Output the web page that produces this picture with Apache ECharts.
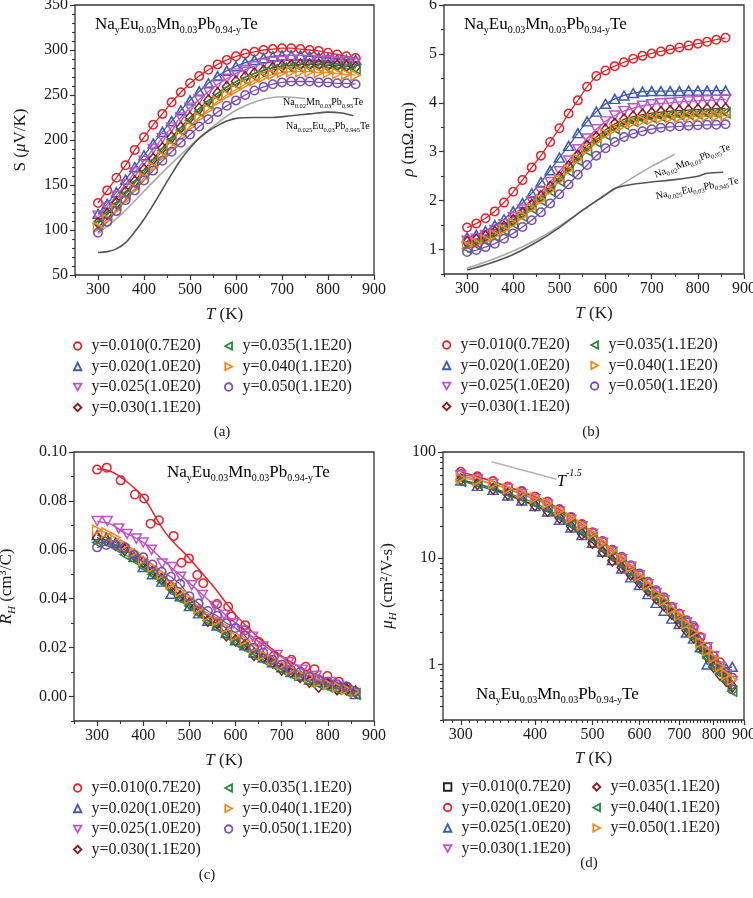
<!DOCTYPE html>
<html><head><meta charset="utf-8">
<script src="https://cdn.jsdelivr.net/npm/echarts@6/dist/echarts.min.js"></script>
<style>html,body{margin:0;padding:0;background:#fff;width:753px;height:898px;overflow:hidden}
.c{position:absolute;left:0;top:0;width:753px;height:898px;}</style>
</head><body>
<div id="ca" class="c"></div><div id="cb" class="c"></div><div id="cc" class="c"></div><div id="cd" class="c"></div>
<script>
// ---------------- DATA ----------------
const T_GRID = [300,320,340,360,380,400,420,440,460,480,500,520,540,560,580,600,620,640,660,680,700,720,740,760,780,800,820,840,860];
const LEGEND_LABELS = ['y=0.010(0.7E20)','y=0.020(1.0E20)','y=0.025(1.0E20)','y=0.030(1.1E20)','y=0.035(1.1E20)','y=0.040(1.1E20)','y=0.050(1.1E20)'];

// (a) Seebeck S (uV/K)
const S_010 = [130,144,158,172,189,203,217,229,242,253,263,271,278,284,289,293,296,298,300,301,302,302,301,300,299,297,295,293,291];
const S_020 = [118,129,142,156,170,183,196,209,221,233,244,254,263,271,277,282,286,289,291,293,294,294,294,293,292,291,290,289,289];
const S_025 = [116,126,138,151,164,177,190,202,214,225,236,245,254,262,268,274,278,282,285,287,288,289,289,289,288,288,287,287,286];
const S_030 = [108,118,130,142,154,167,179,191,203,214,225,235,244,252,259,265,270,274,277,280,282,283,284,284,284,283,283,282,281];
const S_035 = [107,117,128,140,152,164,176,188,200,211,222,232,241,249,256,262,267,271,275,278,280,281,281,281,281,280,280,279,279];
const S_040 = [103,112,123,134,146,158,170,182,193,204,215,225,234,243,250,256,262,266,270,273,275,276,276,276,275,275,274,273,272];
const S_050 = [97,109,121,133,144,155,166,177,187,197,206,215,223,231,238,244,250,255,259,262,264,265,265,265,264,264,263,263,262];
const S_REF_MN_T = [300,350,400,450,500,550,600,650,700,750];
const S_REF_MN = [96,117,143,169,193,215,233,244,248,246];
const S_REF_EU_T = [300,320,340,360,380,400,420,440,460,480,500,520,540,560,580,600,640,680,720,760,800,830,855];
const S_REF_EU = [75,76,79,86,98,112,128,145,162,178,191,202,210,216,221,224,225,225,227,229,231,230,227];

// (b) resistivity rho (mOhm.cm)
const R_010 = [1.45,1.53,1.64,1.78,1.96,2.18,2.42,2.68,2.92,3.2,3.48,3.78,4.05,4.33,4.55,4.66,4.75,4.83,4.9,4.96,5.01,5.05,5.09,5.13,5.17,5.21,5.25,5.29,5.33];
const R_020 = [1.25,1.3,1.38,1.5,1.62,1.78,1.95,2.15,2.38,2.62,2.88,3.12,3.38,3.62,3.82,3.98,4.08,4.15,4.2,4.23,4.24,4.24,4.24,4.24,4.25,4.25,4.25,4.25,4.25];
const R_025 = [1.18,1.22,1.3,1.4,1.52,1.66,1.82,1.99,2.18,2.38,2.6,2.82,3.05,3.27,3.46,3.62,3.74,3.83,3.89,3.94,3.97,3.99,4.0,4.02,4.03,4.04,4.05,4.06,4.07];
const R_030 = [1.15,1.2,1.27,1.36,1.47,1.6,1.75,1.91,2.09,2.28,2.48,2.7,2.92,3.12,3.3,3.45,3.57,3.66,3.72,3.76,3.79,3.81,3.83,3.84,3.85,3.86,3.87,3.88,3.88];
const R_035 = [1.02,1.1,1.18,1.28,1.4,1.53,1.68,1.84,2.01,2.2,2.4,2.6,2.82,3.02,3.2,3.35,3.47,3.56,3.62,3.67,3.7,3.72,3.74,3.75,3.76,3.77,3.78,3.79,3.8];
const R_040 = [1.08,1.13,1.2,1.3,1.41,1.54,1.69,1.85,2.02,2.21,2.42,2.63,2.85,3.05,3.22,3.36,3.47,3.55,3.6,3.64,3.67,3.69,3.7,3.71,3.72,3.72,3.73,3.73,3.74];
const R_050 = [0.95,0.99,1.05,1.12,1.22,1.33,1.46,1.6,1.76,1.94,2.13,2.33,2.53,2.73,2.92,3.07,3.2,3.3,3.37,3.42,3.46,3.49,3.51,3.52,3.53,3.54,3.55,3.55,3.56];
const R_REF_MN_T = [300,350,400,450,500,550,600,650,700,750];
const R_REF_MN = [0.62,0.78,0.97,1.2,1.48,1.8,2.12,2.42,2.7,2.95];
const R_REF_EU_T = [300,350,400,450,500,550,600,620,650,700,750,800,820,855];
const R_REF_EU = [0.58,0.72,0.9,1.15,1.45,1.8,2.12,2.25,2.32,2.38,2.43,2.5,2.56,2.58];

// (c) Hall coefficient R_H (cm3/C)
const RH_010_T = [300,321,351,382,402,416,434,466,483,499,517,530,560,584,591,621,622,651,683,721,752,771,799,824,842,849];
const RH_010 = [0.0928,0.0936,0.0884,0.0826,0.081,0.0707,0.0721,0.0657,0.0547,0.0565,0.0497,0.0463,0.0378,0.0367,0.0327,0.0292,0.0272,0.0223,0.0166,0.015,0.0122,0.0112,0.0084,0.0061,0.004,0.0027];
const RH_010_FIT_T = [300,330,360,400,450,500,550,600,650,700,750,800,850,860];
const RH_010_FIT = [0.093,0.092,0.0885,0.0815,0.0665,0.0565,0.0455,0.0335,0.024,0.0165,0.011,0.007,0.004,0.0035];
const RH_025_T = [300,322,347,365,385,400,418,441,463,481,505,528,555,575,595,615,637,660,690,715,745,775,805,830,858];
const RH_025 = [0.0718,0.0718,0.0687,0.0665,0.0646,0.063,0.06,0.0544,0.053,0.049,0.0455,0.0415,0.037,0.0335,0.03,0.027,0.0245,0.0205,0.017,0.014,0.011,0.0085,0.006,0.004,0.0015];
const RH_025_FIT_T = [300,330,350,400,450,500,550,600,650,700,750,800,850,860];
const RH_025_FIT = [0.0716,0.0705,0.068,0.063,0.0545,0.0465,0.038,0.03,0.0225,0.016,0.011,0.0065,0.003,0.0025];
const RH_020 = [0.066,0.065,0.063,0.061,0.057,0.053,0.05,0.047,0.042,0.041,0.037,0.034,0.031,0.029,0.026,0.023,0.021,0.018,0.016,0.014,0.012,0.01,0.0085,0.007,0.006,0.005,0.004,0.004,0.001];
const RH_030 = [0.065,0.064,0.062,0.06,0.058,0.055,0.051,0.048,0.045,0.041,0.038,0.035,0.031,0.03,0.025,0.023,0.021,0.017,0.016,0.014,0.011,0.01,0.008,0.006,0.004,0.005,0.003,0.003,0.002];
const RH_035 = [0.063,0.063,0.061,0.058,0.056,0.053,0.05,0.047,0.044,0.04,0.037,0.034,0.031,0.028,0.025,0.022,0.02,0.017,0.015,0.013,0.011,0.009,0.008,0.006,0.005,0.004,0.003,0.002,0.001];
const RH_040 = [0.068,0.067,0.065,0.062,0.059,0.056,0.053,0.05,0.046,0.043,0.04,0.036,0.033,0.031,0.028,0.025,0.023,0.02,0.017,0.015,0.013,0.011,0.009,0.008,0.006,0.005,0.004,0.003,0.002];
const RH_050 = [0.061,0.062,0.062,0.061,0.058,0.057,0.054,0.051,0.049,0.046,0.041,0.038,0.035,0.033,0.03,0.028,0.025,0.02,0.018,0.015,0.013,0.011,0.01,0.008,0.007,0.006,0.005,0.004,0.002];

// (d) Hall mobility (cm2/V-s)
const MU_RED = [65,59,53,47,43,38,34,28.5,24,20.5,17.5,14.3,11.8,10,8.4,6.9,5.8,4.8,4.1,3.4,3.0,2.6,2.2,1.8,1.45,1.2,1.05,0.85,0.75];
const MU_BLUE = [54,48,44,39,35,31,27.5,23,19.5,16.5,14,11.5,9.6,8,6.6,5.6,4.6,3.8,3.2,2.7,2.4,2.0,1.75,1.45,1.0,1.05,0.95,0.92,0.95];
const MU_PINK = [60,55,50,45,40,36,32,27.5,23,20,17,14,11.5,9.8,8.3,6.9,5.7,4.7,4.0,3.4,2.9,2.5,2.1,1.75,1.45,1.2,0.95,0.8,0.7];
const MU_DRED = [55,50,45,40,35.5,31.5,28,24,20,17,14,11.5,9.5,8.2,7.0,5.9,5.0,4.2,3.6,3.0,2.5,2.1,1.8,1.5,1.2,0.95,0.8,0.7,0.62];
const MU_GREEN = [53,50,46,41,37,33,29,25,21,18,15.5,12.5,10.5,8.8,7.4,6.1,5.1,4.3,3.7,3.0,2.6,2.2,1.8,1.35,1.15,0.95,0.82,0.7,0.56];
const MU_ORANGE = [57,54,50,45,41,37,33,28,24,20.5,17,14,11.8,9.9,8.2,6.8,5.6,4.6,4.0,3.3,2.9,2.4,2.0,1.6,1.35,1.15,0.95,0.8,0.72];
const MU_PURPLE = [62,58,53,47,42,38,34,29,24.5,21,17.5,14.5,12,10.3,8.6,7.2,6.0,5.0,4.3,3.5,3.0,2.5,2.3,1.8,1.3,1.1,0.9,0.75,0.58];
const MU_GUIDE_T = [338,435];
const MU_GUIDE = [81,55.5];

// tick values
const X_LABELS = [300,400,500,600,700,800,900];
const X_MINOR = [250,350,450,550,650,750,850];
const SA_LABELS = [50,100,150,200,250,300,350];
const SA_MINOR = [60,70,80,90,110,120,130,140,160,170,180,190,210,220,230,240,260,270,280,290,310,320,330,340];
const RB_LABELS = [1,2,3,4,5,6];
const RB_MINOR = [0.5,1.5,2.5,3.5,4.5,5.5];
const RC_LABELS = [0,0.02,0.04,0.06,0.08,0.1];
const RC_MINOR = [-0.01,0.01,0.03,0.05,0.07,0.09];
const MD_LABELS = [1,10,100];
const MD_MINOR = [0.3,0.4,0.5,0.6,0.7,0.8,0.9,2,3,4,5,6,7,8,9,20,30,40,50,60,70,80,90];
const XD_LABELS = [300,400,500,600,700,800,900];
const XD_MINOR = [];
for (let t = 280; t <= 900; t += 10) if (t % 100) XD_MINOR.push(t);

// ---------------- STYLE ----------------
const FONT = "'Liberation Serif','DejaVu Serif',serif";
const INK = '#1a1a1a';
const COL = {red:'#e3242b', blue:'#3b5bb0', pink:'#c053c6', dred:'#8c1a1a', green:'#24893a', orange:'#f2891d', purple:'#7a4fb4', black:'#222222'};
const SYM = {circle:'circle', up:'triangle', down:'path://M0,0L10,0L5,9Z', left:'path://M0,5L9,0L9,10Z', right:'path://M0,0L9,5L0,10Z', diamond:'diamond', square:'rect'};
const SYMSIZE = {circle:8.5, up:[10,9], down:[10,9], left:[9,10], right:[9,10], diamond:[9,11], square:8};

function zip(xs, ys){ return xs.map((x,i)=>[x, ys[i]]); }

function markSeries(name, col, sym, data, extra){
  return Object.assign({
    type:'line', name, data, symbol:SYM[sym], symbolSize:SYMSIZE[sym],
    itemStyle:{color:'rgba(255,255,255,0)', borderColor:COL[col], borderWidth:1.5},
    lineStyle:{color:COL[col], width:1.3},
    emphasis:{disabled:true}, animation:false, silent:true
  }, extra || {});
}
function plainLine(name, color, data, width){
  return {type:'line', name, data, symbol:'none', smooth:0.3, lineStyle:{color, width:width||1.6},
    emphasis:{disabled:true}, animation:false, silent:true};
}

const labelStyle = {fontFamily:FONT, fontSize:16, color:INK};
function axisPair(dim, gridIndex, type, min, max, labels, minor, fmt, nameStr, nameGap, nameRich, logBase){
  const main = {
    type, gridIndex, min, max, position: dim==='x' ? 'bottom' : 'left',
    axisLine:{show:false, onZero:false}, splitLine:{show:false},
    axisTick:{show:true, inside:false, length:5, lineStyle:{color:'#333', width:1.2}, customValues:labels},
    axisLabel:Object.assign({show:true, margin:7, customValues:labels, formatter:fmt}, labelStyle),
    name:nameStr, nameLocation:'middle', nameGap,
    nameTextStyle:{fontFamily:FONT, fontSize:17, color:INK, rich:nameRich}
  };
  const sec = {
    type, gridIndex, min, max, position: dim==='x' ? 'bottom' : 'left',
    axisLine:{show:false, onZero:false}, splitLine:{show:false}, axisLabel:{show:false},
    axisTick:{show:true, inside:false, length:3, lineStyle:{color:'#333', width:1.1}, customValues:minor}
  };
  if (logBase) { main.logBase = logBase; sec.logBase = logBase; }
  return [main, sec];
}

const nameRich = {
  i:{fontFamily:FONT, fontSize:17, fontStyle:'italic', color:INK, lineHeight:18, verticalAlign:'top'},
  n:{fontFamily:FONT, fontSize:17, color:INK, lineHeight:18, verticalAlign:'top'},
  s:{fontFamily:FONT, fontSize:11, fontStyle:'italic', color:INK, lineHeight:28}
};

function formula(x, y, size, subSize, parts, extra){
  const shift = Math.round(size*0.32);
  const lh = size + 1;
  const rich = {
    m:{fontFamily:FONT, fontSize:size, color:'#111', lineHeight:lh, verticalAlign:'top'},
    s:{fontFamily:FONT, fontSize:subSize, color:'#111', lineHeight:lh + 2*shift}
  };
  let txt = '';
  parts.forEach((p,i)=>{ if (p !== '') txt += (i%2===0 ? '{m|' : '{s|') + p + '}'; });
  return Object.assign({type:'text', x, y: y - lh/2, silent:true, z:100,
    style:{text:txt, rich, align:'left', verticalAlign:'top', textAlign:'left', textVerticalAlign:'top'}}, extra||{});
}
const MAIN_F = ['Na','y','Eu','0.03','Mn','0.03','Pb','0.94-y','Te'];
const MN_F = ['Na','0.02','Mn','0.03','Pb','0.95','Te'];
const EU_F = ['Na','0.025','Eu','0.03','Pb','0.945','Te'];

function caption(x, y, t){
  return {type:'text', x, y, silent:true, style:{text:t, fontFamily:FONT, fontSize:15, fill:INK, align:'center', verticalAlign:'middle', textAlign:'center', textVerticalAlign:'middle'}};
}

function legends(names, icons, left1, left2, top){
  const mk = (idx, left) => ({
    orient:'vertical', left, top, itemWidth:7.5, itemHeight:7.5, itemGap:4.5,
    selectedMode:false, padding:0,
    itemStyle:{borderWidth:1.8},
    textStyle:{fontFamily:FONT, fontSize:16, color:INK, lineHeight:16, padding:[0,0,0,5]},
    data: idx.map(i => ({name:names[i], icon:icons[i]}))
  });
  return [mk([0,1,2,3], left1), mk([4,5,6], left2)];
}

const STD = [['red','circle'],['blue','up'],['pink','down'],['dred','diamond'],['green','left'],['orange','right'],['purple','circle']];
const STD_ICONS = STD.map(s => SYM[s[1]]);

const gridStyle = {show:true, borderColor:'#333', borderWidth:1.3, backgroundColor:'transparent', outerBoundsMode:'none', containLabel:false};

// ---------------- (a) ----------------
(function(){
  const ch = echarts.init(document.getElementById('ca'), null, {renderer:'canvas'});
  const sets = [S_010,S_020,S_025,S_030,S_035,S_040,S_050];
  const series = [
    plainLine('refMn', '#a9a9a9', zip(S_REF_MN_T, S_REF_MN)),
    plainLine('refEu', '#555555', zip(S_REF_EU_T, S_REF_EU))
  ];
  sets.forEach((d,i)=> series.push(markSeries(LEGEND_LABELS[i], STD[i][0], STD[i][1], zip(T_GRID, d))));
  ch.setOption({
    animation:false,
    grid:[Object.assign({left:75, top:5, width:299, height:270}, gridStyle)],
    xAxis: axisPair('x',0,'value',250,900,X_LABELS,X_MINOR,null,'{i|T} {n|(K)}',31,nameRich),
    yAxis: axisPair('y',0,'value',50,350,SA_LABELS,SA_MINOR,null,'{n|S (}{i|μ}{n|V/K)}',45,nameRich),
    legend: legends(LEGEND_LABELS, STD_ICONS, 73, 224, 338),
    series,
    graphic:[
      formula(95, 25, 17, 10, MAIN_F),
      formula(283, 103, 10, 6.5, MN_F),
      formula(286, 127, 10, 6.5, EU_F),
      caption(222, 432, '(a)')
    ]
  });
})();

// ---------------- (b) ----------------
(function(){
  const ch = echarts.init(document.getElementById('cb'), null, {renderer:'canvas'});
  const sets = [R_010,R_020,R_025,R_030,R_035,R_040,R_050];
  const series = [
    plainLine('refMn', '#a9a9a9', zip(R_REF_MN_T, R_REF_MN)),
    plainLine('refEu', '#555555', zip(R_REF_EU_T, R_REF_EU))
  ];
  sets.forEach((d,i)=> series.push(markSeries(LEGEND_LABELS[i], STD[i][0], STD[i][1], zip(T_GRID, d))));
  ch.setOption({
    animation:false,
    grid:[Object.assign({left:444, top:5, width:300, height:269}, gridStyle)],
    xAxis: axisPair('x',0,'value',250,900,X_LABELS,X_MINOR,null,'{i|T} {n|(K)}',31,nameRich),
    yAxis: axisPair('y',0,'value',0.5,6,RB_LABELS,RB_MINOR,null,'{i|ρ} {n|(mΩ.cm)}',26,nameRich),
    legend: legends(LEGEND_LABELS, STD_ICONS, 442, 590, 337),
    series,
    graphic:[
      formula(464, 25, 17, 10, MAIN_F),
      formula(653, 176, 10, 6.5, MN_F, {rotation:0.36}),
      formula(655, 197, 10, 6.5, EU_F, {rotation:0.19}),
      caption(591, 432, '(b)')
    ]
  });
})();

// ---------------- (c) ----------------
(function(){
  const ch = echarts.init(document.getElementById('cc'), null, {renderer:'canvas'});
  const series = [
    markSeries('fit010', 'red', 'circle', zip(RH_010_FIT_T, RH_010_FIT), {symbol:'none', smooth:0.4, lineStyle:{color:COL.red, width:1.5}}),
    markSeries('fit025', 'pink', 'down', zip(RH_025_FIT_T, RH_025_FIT), {symbol:'none', smooth:0.4, lineStyle:{color:COL.pink, width:1.5}}),
    markSeries(LEGEND_LABELS[0], 'red', 'circle', zip(RH_010_T, RH_010), {lineStyle:{width:0, opacity:0}}),
    markSeries(LEGEND_LABELS[1], 'blue', 'up', zip(T_GRID, RH_020)),
    markSeries(LEGEND_LABELS[2], 'pink', 'down', zip(RH_025_T, RH_025), {lineStyle:{width:0, opacity:0}}),
    markSeries(LEGEND_LABELS[3], 'dred', 'diamond', zip(T_GRID, RH_030)),
    markSeries(LEGEND_LABELS[4], 'green', 'left', zip(T_GRID, RH_035)),
    markSeries(LEGEND_LABELS[5], 'orange', 'right', zip(T_GRID, RH_040)),
    markSeries(LEGEND_LABELS[6], 'purple', 'circle', zip(T_GRID, RH_050))
  ];
  ch.setOption({
    animation:false,
    grid:[Object.assign({left:74, top:452, width:300, height:269}, gridStyle)],
    xAxis: axisPair('x',0,'value',250,900,X_LABELS,X_MINOR,null,'{i|T} {n|(K)}',31,nameRich),
    yAxis: axisPair('y',0,'value',-0.01,0.1,RC_LABELS,RC_MINOR,v=>v.toFixed(2),'{i|R}{s|H} {n|(cm³/C)}',48,nameRich),
    legend: legends(LEGEND_LABELS, STD_ICONS, 73, 224, 780),
    series,
    graphic:[
      formula(167, 473, 17, 10, MAIN_F),
      caption(207, 875, '(c)')
    ]
  });
})();

// ---------------- (d) ----------------
(function(){
  const ch = echarts.init(document.getElementById('cd'), null, {renderer:'canvas'});
  const D_NAMES = ['y=0.010(0.7E20)','y=0.020(1.0E20)','y=0.025(1.0E20)','y=0.030(1.1E20)','y=0.035(1.1E20)','y=0.040(1.1E20)','y=0.050(1.1E20)'];
  const D_ICONS = [SYM.square, SYM.circle, SYM.up, SYM.down, SYM.diamond, SYM.left, SYM.right];
  const series = [
    plainLine('guide', '#b5b5b5', zip(MU_GUIDE_T, MU_GUIDE), 1.6),
    markSeries(D_NAMES[0], 'black', 'square', []),
    markSeries('purple circles', 'purple', 'circle', zip(T_GRID, MU_PURPLE)),
    markSeries(D_NAMES[1], 'red', 'circle', zip(T_GRID, MU_RED)),
    markSeries(D_NAMES[2], 'blue', 'up', zip(T_GRID, MU_BLUE)),
    markSeries(D_NAMES[3], 'pink', 'down', zip(T_GRID, MU_PINK)),
    markSeries(D_NAMES[4], 'dred', 'diamond', zip(T_GRID, MU_DRED)),
    markSeries(D_NAMES[5], 'green', 'left', zip(T_GRID, MU_GREEN)),
    markSeries(D_NAMES[6], 'orange', 'right', zip(T_GRID, MU_ORANGE))
  ];
  ch.setOption({
    animation:false,
    grid:[Object.assign({left:443, top:452, width:301, height:268}, gridStyle)],
    xAxis: axisPair('x',0,'log',280,900,XD_LABELS,XD_MINOR,null,'{i|T} {n|(K)}',30,nameRich,10),
    yAxis: axisPair('y',0,'log',0.3,100,MD_LABELS,MD_MINOR,null,'{i|μ}{s|H} {n|(cm²/V-s)}',36,nameRich,10),
    legend: legends(D_NAMES, D_ICONS, 443, 592, 779),
    series,
    graphic:[
      formula(476, 695, 17, 10, MAIN_F),
      {type:'text', x:557, y:468, silent:true, style:{text:'{t|T}{p|-1.5}', align:'left', verticalAlign:'top', textAlign:'left', textVerticalAlign:'top',
        rich:{t:{fontFamily:FONT, fontSize:16, fontStyle:'italic', color:'#111', lineHeight:22, verticalAlign:'bottom'},
              p:{fontFamily:FONT, fontSize:10, fontStyle:'italic', color:'#111', lineHeight:10, verticalAlign:'top'}}}},
      caption(589, 863, '(d)')
    ]
  });
})();
</script>
</body></html>
